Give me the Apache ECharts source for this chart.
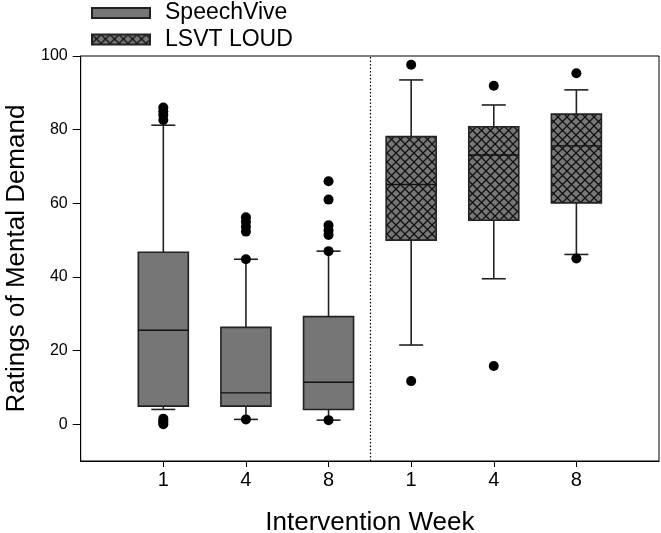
<!DOCTYPE html>
<html>
<head>
<meta charset="utf-8">
<script src="https://cdn.jsdelivr.net/npm/echarts@6/dist/echarts.min.js"></script>
<style>
html,body{margin:0;padding:0;background:#fff;}
#chart{width:661px;height:533px;}
</style>
</head>
<body>
<div id="chart"></div>
<script>
// ---- data ----
var groups = ['SpeechVive', 'LSVT LOUD'];
var tickLabels = ['1', '4', '8', '1', '4', '8'];
var positions = [1, 2, 3, 4, 5, 6];
var yTicks = [0, 20, 40, 60, 80, 100];
// [lowerWhisker, q1, median, q3, upperWhisker]
var speechViveBoxes = [
  [4.0, 4.9, 25.5, 46.7, 81.2],
  [1.3, 4.9, 8.5, 26.3, 44.8],
  [1.1, 4.0, 11.4, 29.2, 47.0]
];
var lsvtBoxes = [
  [21.5, 50.0, 65.1, 78.1, 93.5],
  [39.5, 55.4, 73.1, 80.8, 86.7],
  [46.1, 60.1, 75.6, 84.2, 90.8]
];
// outliers per position
var speechViveOutliers = [
  [86.0, 85.0, 84.0, 82.6, 1.5, 1.0, 0.5, 0.0],
  [56.2, 55.0, 53.6, 52.3, 44.8, 1.3],
  [66.0, 61.0, 54.0, 52.6, 51.4, 47.0, 1.1]
];
var lsvtOutliers = [
  [97.6, 11.7],
  [91.9, 15.8],
  [95.3, 45.0]
];
var dividerAt = 3.5;

// ---- build ----
function makeHatch() {
  var s = 9;
  var c = document.createElement('canvas');
  c.width = s; c.height = s;
  var g = c.getContext('2d');
  g.fillStyle = '#777777';
  g.fillRect(0, 0, s, s);
  g.strokeStyle = '#111111';
  g.lineWidth = 1.3;
  g.beginPath();
  g.moveTo(0, 0); g.lineTo(s, s);
  g.moveTo(0, s); g.lineTo(s, 0);
  g.stroke();
  return c;
}
var hatch = {image: makeHatch(), repeat: 'repeat'};
var solidFill = '#767676';

function boxData(boxes, offset) {
  return boxes.map(function (b, i) {
    return [positions[offset + i]].concat(b);
  });
}
function outlierData(list, offset) {
  var out = [];
  list.forEach(function (vals, i) {
    vals.forEach(function (v) { out.push([positions[offset + i], v]); });
  });
  return out;
}

function renderBox(fill) {
  return function (params, api) {
    var x = api.value(0);
    var lo = api.coord([x, api.value(1)]);
    var q1 = api.coord([x, api.value(2)]);
    var md = api.coord([x, api.value(3)]);
    var q3 = api.coord([x, api.value(4)]);
    var hi = api.coord([x, api.value(5)]);
    var cx = lo[0];
    var bw = 50, cw = 24;
    var ls = {stroke: '#222', lineWidth: 1.6};
    return {
      type: 'group',
      children: [
        {type: 'line', shape: {x1: cx, y1: hi[1], x2: cx, y2: q3[1]}, style: ls},
        {type: 'line', shape: {x1: cx, y1: q1[1], x2: cx, y2: lo[1]}, style: ls},
        {type: 'line', shape: {x1: cx - cw / 2, y1: hi[1], x2: cx + cw / 2, y2: hi[1]}, style: ls},
        {type: 'line', shape: {x1: cx - cw / 2, y1: lo[1], x2: cx + cw / 2, y2: lo[1]}, style: ls},
        {type: 'rect', shape: {x: cx - bw / 2, y: q3[1], width: bw, height: q1[1] - q3[1]},
          style: {fill: fill, stroke: '#222', lineWidth: 1.6}},
        {type: 'line', shape: {x1: cx - bw / 2, y1: md[1], x2: cx + bw / 2, y2: md[1]}, style: {stroke: '#111', lineWidth: 1.4}}
      ]
    };
  };
}

var chart = echarts.init(document.getElementById('chart'));
var fontFam = 'Liberation Sans, Arial, sans-serif';
chart.setOption({
  animation: false,
  textStyle: {fontFamily: fontFam, color: '#000'},
  legend: {
    data: groups,
    orient: 'vertical',
    left: 91, top: 1.5, padding: 0,
    itemWidth: 58, itemHeight: 10, itemGap: 3.5,
    icon: 'rect',
    textStyle: {fontSize: 23, lineHeight: 23, color: '#000', fontFamily: fontFam, padding: [0, 0, 0, 10]}
  },
  grid: {left: 80.7, right: 2, top: 56, bottom: 72, show: true, borderColor: '#000', borderWidth: 1,
    containLabel: false, outerBoundsMode: 'none'},
  xAxis: {
    type: 'value', min: 0, max: 7, interval: 1,
    name: 'Intervention Week', nameLocation: 'middle', nameGap: 49,
    nameTextStyle: {fontSize: 26, color: '#000', fontFamily: fontFam},
    axisLine: {show: true, onZero: false, lineStyle: {color: '#000', width: 1}},
    axisTick: {show: true, length: 6, customValues: positions, lineStyle: {color: '#000'}},
    axisLabel: {customValues: positions, fontSize: 20, color: '#000', margin: 9,
      formatter: function (v) { var i = positions.indexOf(v); return i >= 0 ? tickLabels[i] : ''; }},
    splitLine: {show: false}
  },
  yAxis: {
    type: 'value', min: -10, max: 100, interval: 10,
    name: 'Ratings of Mental Demand', nameLocation: 'middle', nameGap: 49,
    nameTextStyle: {fontSize: 26, color: '#000', fontFamily: fontFam},
    axisLine: {show: true, onZero: false, lineStyle: {color: '#000', width: 1}},
    axisTick: {show: true, length: 8, customValues: yTicks, lineStyle: {color: '#000'}},
    axisLabel: {customValues: yTicks, fontSize: 16, color: '#000', margin: 13},
    splitLine: {show: false}
  },
  series: [
    {
      name: 'SpeechVive', type: 'custom', renderItem: renderBox(solidFill),
      itemStyle: {color: solidFill, borderColor: '#222', borderWidth: 1.5},
      data: boxData(speechViveBoxes, 0), z: 2
    },
    {
      name: 'LSVT LOUD', type: 'custom', renderItem: renderBox(hatch),
      itemStyle: {color: hatch, borderColor: '#222', borderWidth: 1.5},
      data: boxData(lsvtBoxes, 3), z: 2
    },
    {
      name: 'outliers', type: 'scatter', symbol: 'circle', symbolSize: 10,
      itemStyle: {color: '#000', opacity: 1},
      data: outlierData(speechViveOutliers, 0).concat(outlierData(lsvtOutliers, 3)),
      z: 3,
      markLine: {
        silent: true, symbol: 'none', label: {show: false},
        lineStyle: {color: '#000', type: [1.5, 2], width: 1.2},
        data: [{xAxis: dividerAt}]
      }
    }
  ]
});
</script>
</body>
</html>
